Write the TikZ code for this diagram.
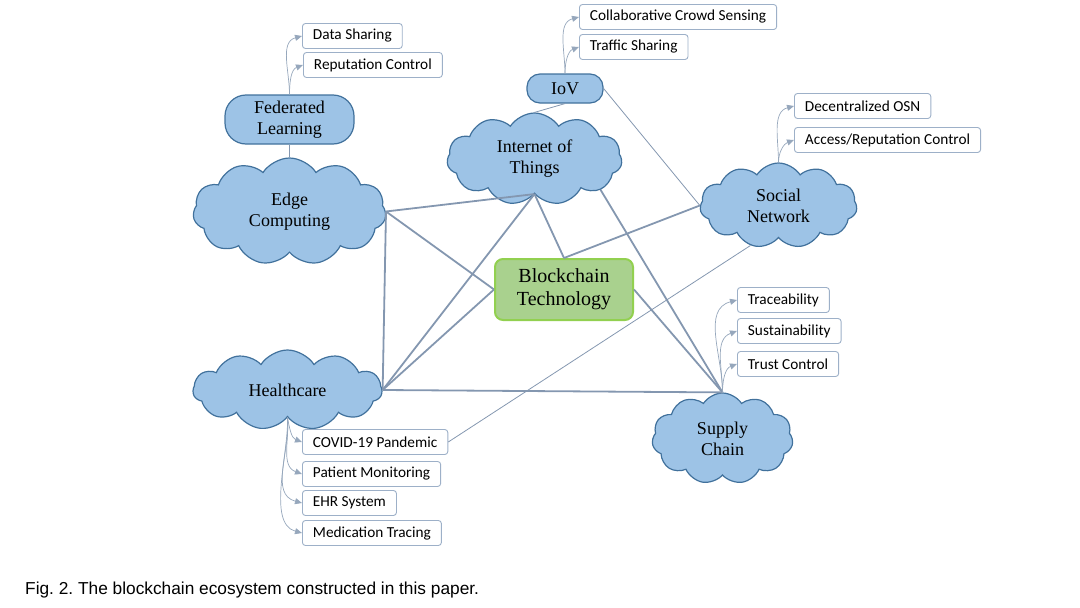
\documentclass[tikz,border=0pt]{standalone}
\usepackage{fontspec}
\setmainfont{Liberation Serif}
\newfontfamily\leaffont{Carlito}
\newfontfamily\capfont{Liberation Sans}
\usepackage{tikz}
\usetikzlibrary{shapes.symbols,arrows.meta,positioning}
\definecolor{cloudfill}{HTML}{9DC3E6}
\definecolor{cloudline}{HTML}{41719C}
\definecolor{linkcol}{HTML}{8497B0}
\definecolor{leafline}{HTML}{9DB0C8}
\definecolor{bctfill}{HTML}{A9D18E}
\definecolor{bctline}{HTML}{92D050}
\frenchspacing
\tikzset{
	areacloud/.style={cloud, cloud puffs=11, cloud puff arc=115, cloud ignores aspect, draw=cloudline, fill=cloudfill, line width=1.2pt, inner sep=0pt, align=center, font=\fontsize{18}{21}\selectfont},
	pill/.style={draw=cloudline, fill=cloudfill, line width=1.2pt, inner sep=0pt, align=center, font=\fontsize{18}{21}\selectfont},
	leaf/.style={draw=leafline, fill=white, rounded corners=3pt, line width=0.9pt, anchor=west, inner xsep=10.5pt, inner ysep=0pt, minimum height=25pt, font=\leaffont\fontsize{15.3}{17}\selectfont},
	mainlink/.style={draw=linkcol, line width=1.8pt},
	thinlink/.style={draw=linkcol, line width=0.8pt},
	leaflink/.style={draw=linkcol!85, line width=0.7pt, -{Triangle[length=7pt,width=6pt]}}
}
\begin{document}
\begin{tikzpicture}[x=1pt,y=-1pt]
		\useasboundingbox (0,0) rectangle (1080,608);
		% domains
		\node[areacloud, minimum width=193pt, minimum height=107pt] (edge) at (289.5,211.5) {Edge\\Computing};
		\node[areacloud, minimum width=175pt, minimum height=92pt] (iot) at (534.5,159) {Internet of\\Things};
		\node[areacloud, minimum width=157pt, minimum height=85pt] (social) at (778.5,205.5) {Social\\Network};
		\node[areacloud, minimum width=189pt, minimum height=80pt] (health) at (287.5,390) {Healthcare};
		\node[areacloud, minimum width=141pt, minimum height=91pt] (supply) at (722.5,438.5) {Supply\\Chain};
		\node[pill, rounded corners=21pt, minimum width=129pt, minimum height=49pt] (fedl) at (289.5,119.5) {Federated\\Learning};
		\node[pill, rounded corners=13pt, minimum width=76pt, minimum height=29pt] (iov) at (565,88.5) {IoV};
		\node[draw=bctline, fill=bctfill, line width=2pt, rounded corners=8pt, minimum width=138pt, minimum height=61pt, inner sep=0pt, align=center, font=\fontsize{20}{23}\selectfont] (bct) at (564,289.5) {Blockchain\\Technology};
		% leaves
		\node[leaf] (datashr) at (302,36) {Data Sharing};
		\node[leaf] (repctl) at (303,65) {Reputation Control};
		\node[leaf] (crowd) at (579,17) {Collaborative Crowd Sensing};
		\node[leaf] (traffic) at (579,47) {Traffic Sharing};
		\node[leaf] (osn) at (794,106) {Decentralized OSN};
		\node[leaf] (access) at (794,140) {Access/Reputation Control};
		\node[leaf] (trace) at (737,300) {Traceability};
		\node[leaf] (sustain) at (737,331) {Sustainability};
		\node[leaf] (trust) at (737,364) {Trust Control};
		\node[leaf] (covid) at (302,442) {COVID-19 Pandemic};
		\node[leaf] (patient) at (302,474) {Patient Monitoring};
		\node[leaf] (ehr) at (302,503) {EHR System};
		\node[leaf] (medic) at (302,533) {Medication Tracing};
		% main links
		\draw[mainlink] (edge.east) -- (iot.south);
		\draw[mainlink] (edge.east) -- (bct.west);
		\draw[mainlink] (edge.east) -- (health.east);
		\draw[mainlink] (iot.south) -- (bct.north);
		\draw[mainlink] (iot.south) -- (health.east);
		\draw[mainlink] (iot.335) -- (supply.north);
		\draw[mainlink] (social.west) -- (bct.north);
		\draw[mainlink] (health.east) -- (bct.west);
		\draw[mainlink] (health.east) -- (supply.north);
		\draw[mainlink] (bct.east) -- (supply.north);
		% thin links
		\draw[thinlink] (fedl.south) -- (edge.north);
		\draw[thinlink] (iov.south) -- (iot.north);
		\draw[thinlink] (iov.east) -- (social.west);
		\draw[thinlink] (covid.east) -- (social.235);
		% leaf arrows
		\draw[leaflink] (fedl.north) to[out=90,in=195] (datashr.west);
		\draw[leaflink] (fedl.north) to[out=90,in=200] (repctl.west);
		\draw[leaflink] (iov.north) to[out=90,in=195] (crowd.west);
		\draw[leaflink] (iov.north) to[out=90,in=200] (traffic.west);
		\draw[leaflink] (social.north) to[out=90,in=195] (osn.west);
		\draw[leaflink] (social.north) to[out=90,in=200] (access.west);
		\draw[leaflink] (supply.north) to[out=90,in=195] (trace.west);
		\draw[leaflink] (supply.north) to[out=90,in=200] (sustain.west);
		\draw[leaflink] (supply.north) to[out=90,in=200] (trust.west);
		\draw[leaflink] (health.south) to[out=-80,in=160] (covid.west);
		\draw[leaflink] (health.south) to[out=-85,in=160] (patient.west);
		\draw[leaflink] (health.south) to[out=-85,in=165] (ehr.west);
		\draw[leaflink] (health.south) to[out=-88,in=165, looseness=0.8] (medic.west);
		% caption
		\node[anchor=west, inner sep=0pt, font=\capfont\fontsize{17.3}{20}\selectfont] (caption) at (25,590) {Fig. 2. The blockchain ecosystem constructed in this paper.};
	\end{tikzpicture}
\end{document}
